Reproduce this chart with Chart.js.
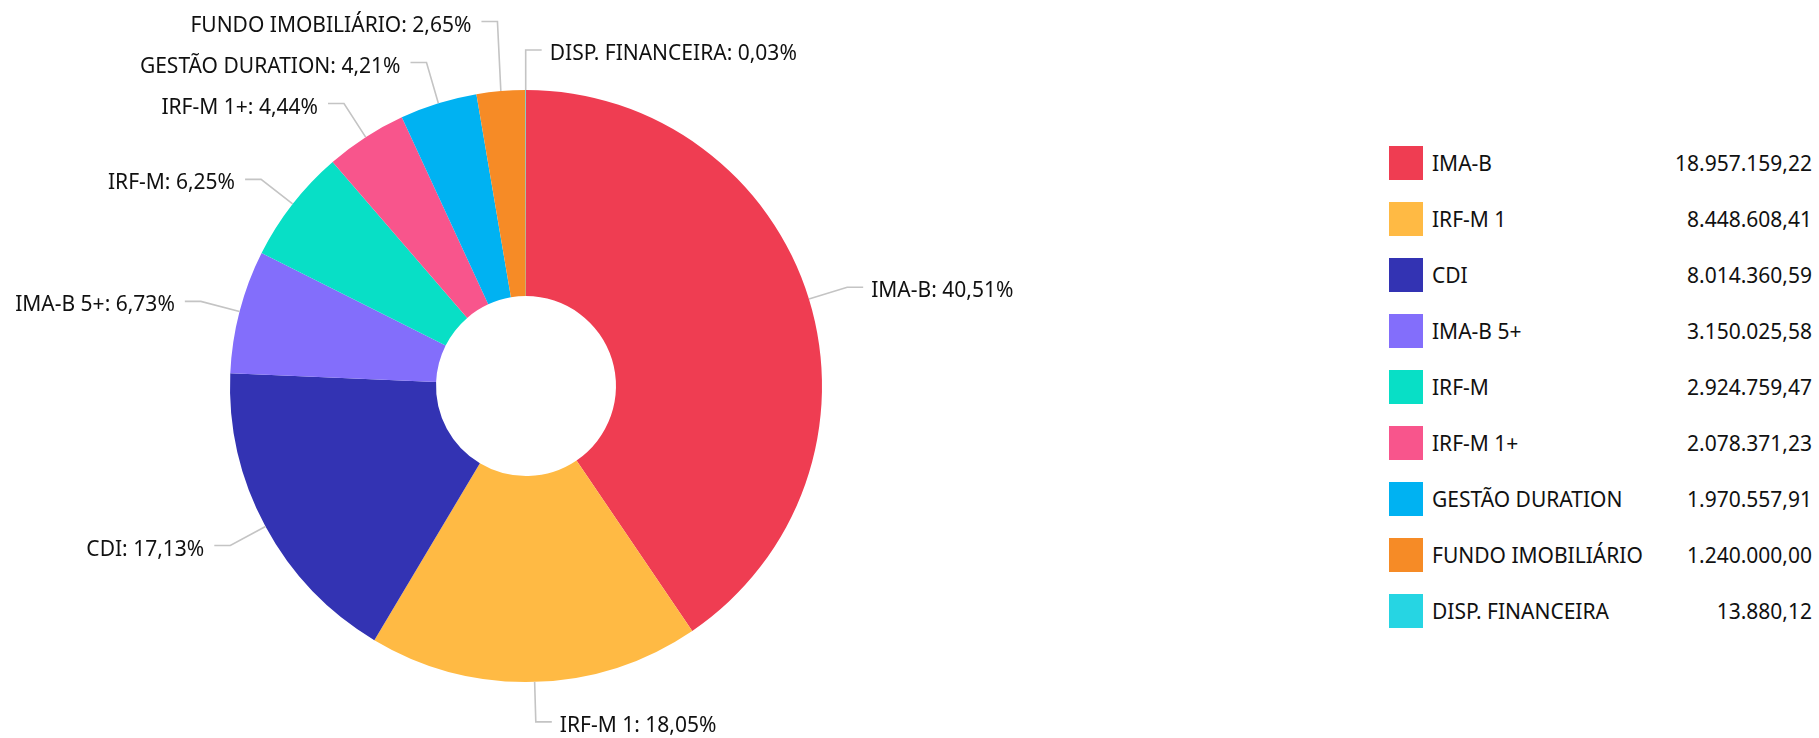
<!DOCTYPE html>
<html>
<head>
<meta charset="utf-8">
<script src="https://cdn.jsdelivr.net/npm/chart.js@4.4.0/dist/chart.umd.min.js"></script>
<style>
  html, body { margin: 0; padding: 0; background: #fff; }
  body { width: 1819px; height: 738px; position: relative; overflow: hidden; font-family: "Noto Sans", sans-serif; }
  #wrap { position: absolute; left: 0; top: 0; width: 1053px; height: 738px; }
  #legend { position: absolute; left: 1389px; top: 135px; width: 423px; }
  .row { height: 56px; display: flex; align-items: center; font-size: 21px; color: #111; }
  .box { width: 34px; height: 34px; margin-right: 9px; flex: none; }
  .val { margin-left: auto; }
</style>
</head>
<body>
<div id="wrap"><canvas id="chart"></canvas></div>
<div id="legend"></div>
<script>
// dados da carteira
const categories = ['IMA-B', 'IRF-M 1', 'CDI', 'IMA-B 5+', 'IRF-M', 'IRF-M 1+', 'GESTÃO DURATION', 'FUNDO IMOBILIÁRIO', 'DISP. FINANCEIRA'];
const amounts = [18957159.22, 8448608.41, 8014360.59, 3150025.58, 2924759.47, 2078371.23, 1970557.91, 1240000.00, 13880.12];
const colors = ['#ef3d52', '#ffba44', '#3333b3', '#836efb', '#08dfc6', '#f8558c', '#00b2f2', '#f68b26', '#26d5e3'];

const total = amounts.reduce((a, b) => a + b, 0);

function brl(v) {
    const parts = v.toFixed(2).split('.');
    parts[0] = parts[0].replace(/\B(?=(\d{3})+(?!\d))/g, '.');
    return parts.join(',');
}

function pct(v) {
    return (v / total * 100).toFixed(2).replace('.', ',');
}

// legenda em html
const legendEl = document.getElementById('legend');
categories.forEach((name, i) => {
    const row = document.createElement('div');
    row.className = 'row';
    row.innerHTML = `<span class="box" style="background:${colors[i]}"></span><span>${name}</span><span class="val">${brl(amounts[i])}</span>`;
    legendEl.appendChild(row);
});

// rótulos externos com linha de ligação
const outsideLabels = {
    id: 'outsideLabels',
    afterDatasetsDraw(chart) {
        const ctx = chart.ctx;
        const meta = chart.getDatasetMeta(0);
        const gap = 40, spacing = 41;
        const items = meta.data.map((arc, i) => {
            const p = arc.getProps(['x', 'y', 'startAngle', 'endAngle', 'outerRadius'], true);
            const a = (p.startAngle + p.endAngle) / 2;
            const r = p.outerRadius;
            return {
                i,
                right: Math.cos(a) >= -0.001,
                ax: p.x + r * Math.cos(a), ay: p.y + r * Math.sin(a),
                bx: p.x + (r + gap) * Math.cos(a), by: p.y + (r + gap) * Math.sin(a)
            };
        });

        // evita sobreposição: empurra para cima
        [true, false].forEach(side => {
            const list = items.filter(it => it.right === side).sort((a, b) => b.by - a.by);
            for (let k = 1; k < list.length; k++) {
                if (list[k].by > list[k - 1].by - spacing) list[k].by = list[k - 1].by - spacing;
            }
        });

        ctx.save();
        ctx.font = '21px "Noto Sans", sans-serif';
        ctx.textBaseline = 'middle';
        items.forEach(it => {
            const dir = it.right ? 1 : -1;
            const ex = it.bx + dir * 16;
            ctx.strokeStyle = '#c4c4c4';
            ctx.lineWidth = 1.6;
            ctx.beginPath();
            ctx.moveTo(it.ax, it.ay);
            ctx.lineTo(it.bx, it.by);
            ctx.lineTo(ex, it.by);
            ctx.stroke();

            ctx.fillStyle = '#111';
            ctx.textAlign = it.right ? 'left' : 'right';
            const txt = categories[it.i] + ': ' + pct(amounts[it.i]) + '%';
            ctx.fillText(txt, ex + dir * (it.right ? 8 : 10), it.by + 4);
        });
        ctx.restore();
    }
};

new Chart(document.getElementById('chart'), {
    type: 'doughnut',
    data: {
        labels: categories,
        datasets: [{
            data: amounts,
            backgroundColor: colors,
            borderWidth: 0
        }]
    },
    options: {
        responsive: true,
        maintainAspectRatio: false,
        animation: false,
        cutout: '30.4%',
        layout: {padding: {left: 230, right: 231, top: 90, bottom: 56}},
        plugins: {
            legend: {display: false},
            tooltip: {enabled: false}
        }
    },
    plugins: [outsideLabels]
});
</script>
</body>
</html>
